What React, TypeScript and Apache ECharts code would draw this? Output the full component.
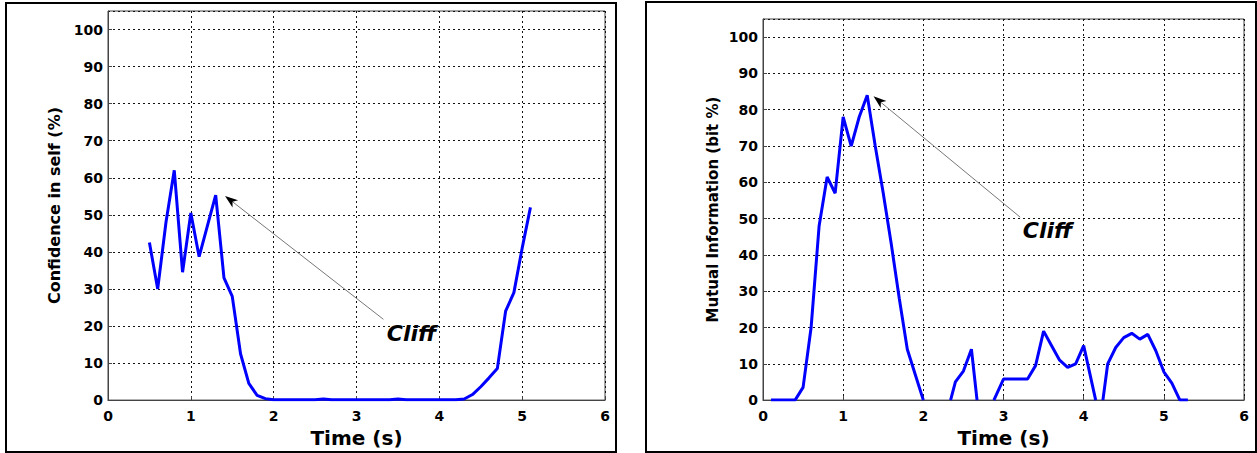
import React, { useEffect, useRef } from "react";
import * as echarts from "echarts";

// ---- data ----
const leftTime = [
  0.5, 0.6, 0.7, 0.8, 0.9, 1.0, 1.1, 1.2, 1.3, 1.4, 1.5, 1.6, 1.7, 1.8, 1.9, 2.0,
  2.1, 2.2, 2.3, 2.4, 2.5, 2.6, 2.7, 2.8, 2.9, 3.0, 3.1, 3.2, 3.3, 3.4, 3.5, 3.6,
  3.7, 3.8, 3.9, 4.0, 4.1, 4.2, 4.3, 4.4, 4.5, 4.6, 4.7, 4.8, 4.9, 5.0, 5.1,
];
const confidence = [
  42.5, 30, 48, 62, 34.5, 50.5, 38.7, 47, 55.3, 33, 28, 12.5, 4.5, 1.3, 0.4, 0.1,
  0.1, 0.1, 0.1, 0.1, 0.1, 0.3, 0.1, 0.1, 0.1, 0.1, 0.1, 0.1, 0.1, 0.1, 0.3, 0.1,
  0.1, 0.1, 0.1, 0.1, 0.1, 0.1, 0.3, 1.5, 3.6, 6, 8.5, 24, 29, 41, 52,
];

const rightTime = [
  0.1, 0.2, 0.3, 0.4, 0.5, 0.6, 0.7, 0.8, 0.9, 1.0, 1.1, 1.2, 1.3, 1.4, 1.5, 1.6,
  1.7, 1.8, 1.9, 2.0, 2.17, 2.34, 2.4, 2.5, 2.6, 2.67, 2.78, 2.88, 3.0, 3.1, 3.2,
  3.3, 3.4, 3.5, 3.6, 3.7, 3.8, 3.9, 4.0, 4.15, 4.2, 4.24, 4.3, 4.4, 4.5, 4.6,
  4.7, 4.8, 4.9, 5.0, 5.1, 5.2, 5.3,
];
const mutualInfo: (number | null)[] = [
  0, 0, 0, 0, 3.5, 20, 48, 61.5, 57, 78, 70, 78, 84, 70, 57, 43,
  28, 14, 7, 0, null, 0, 5, 8, 14, 0, null, 0, 5.8, 5.8, 5.8,
  5.8, 9.5, 19, 15, 11, 9, 10, 15, 0, null, 0, 10, 14.5, 17.2, 18.4,
  16.8, 18.1, 13.6, 7.8, 4.7, 0, 0,
];

const xTicks = { min: 0, max: 6, interval: 1 };
const yTicks = { min: 0, max: 105, interval: 10 };

// annotation anchors (data coordinates)
const leftArrow = { tip: [1.413, 55.1], tail: [3.325, 21.8], text: [3.365, 18] };
const rightArrow = { tip: [1.379, 83.7], tail: [3.208, 50.4], text: [3.24, 46.6] };
const annotationText = "Cliff";

const FONT = "DejaVu Sans";
const GRID_LINE = { color: "#111", width: 1, type: [2, 3] };

function xAxisFor(i: number) {
  return {
    gridIndex: i,
    type: "value",
    ...xTicks,
    name: "Time (s)",
    nameLocation: "middle",
    nameGap: 24,
    nameTextStyle: { fontFamily: FONT, fontWeight: "bold", fontSize: 20, color: "#000" },
    axisLine: { show: true, lineStyle: { color: "#444", width: 1 } },
    axisTick: { show: true, inside: true, length: 4, lineStyle: { color: "#444" } },
    axisLabel: { margin: 9, fontFamily: FONT, fontWeight: "bold", fontSize: 14, color: "#000" },
    splitLine: { show: true, lineStyle: GRID_LINE },
  };
}

function yAxisFor(i: number, name: string, gap: number, size: number) {
  return {
    gridIndex: i,
    type: "value",
    ...yTicks,
    name,
    nameLocation: "middle",
    nameGap: gap,
    nameTextStyle: { fontFamily: FONT, fontWeight: "bold", fontSize: size, color: "#000" },
    axisLine: { show: true, lineStyle: { color: "#444", width: 1 } },
    axisTick: { show: true, inside: true, length: 4, lineStyle: { color: "#444" } },
    axisLabel: {
      margin: 5,
      showMaxLabel: false,
      fontFamily: FONT,
      fontWeight: "bold",
      fontSize: 14,
      color: "#000",
    },
    splitLine: { show: true, lineStyle: GRID_LINE },
  };
}

export default function App() {
  const ref = useRef<HTMLDivElement>(null);
  useEffect(() => {
    if (!ref.current) return;
    const chart = echarts.init(ref.current, null, { renderer: "svg" });
    const leftData = leftTime.map((t, i) => [t, confidence[i]]);
    const rightData = rightTime.map((t, i) => [t, mutualInfo[i] === null ? "-" : mutualInfo[i]]);
    chart.setOption({
      animation: false,
      backgroundColor: "#fff",
      grid: [
        { left: 108, top: 11, width: 497, height: 394, show: true, borderColor: "#444", borderWidth: 1 },
        { left: 763, top: 19, width: 481, height: 390, show: true, borderColor: "#444", borderWidth: 1 },
      ],
      xAxis: [xAxisFor(0), xAxisFor(1)],
      yAxis: [
        yAxisFor(0, "Confidence in self (%)", 46, 16),
        yAxisFor(1, "Mutual Information (bit %)", 43, 15),
      ],
      series: [
        {
          type: "line",
          xAxisIndex: 0,
          yAxisIndex: 0,
          data: leftData,
          showSymbol: false,
          clip: true,
          lineStyle: { color: "#0000ff", width: 3 },
          itemStyle: { color: "#0000ff" },
          z: 5,
        },
        {
          type: "line",
          xAxisIndex: 1,
          yAxisIndex: 1,
          data: rightData,
          showSymbol: false,
          connectNulls: false,
          clip: true,
          lineStyle: { color: "#0000ff", width: 3 },
          itemStyle: { color: "#0000ff" },
          z: 5,
        },
      ],
    });

    const makeAnno = (gridIndex: number, a: { tip: number[]; tail: number[]; text: number[] }) => {
      const tip = chart.convertToPixel({ gridIndex } as any, a.tip) as number[];
      const tail = chart.convertToPixel({ gridIndex } as any, a.tail) as number[];
      const txt = chart.convertToPixel({ gridIndex } as any, a.text) as number[];
      const dx = tail[0] - tip[0];
      const dy = tail[1] - tip[1];
      const len = Math.sqrt(dx * dx + dy * dy);
      const ux = dx / len;
      const uy = dy / len;
      const nx = -uy;
      const ny = ux;
      const L = 13;
      const W = 4.5;
      const N = 3.5;
      const bx = tip[0] + ux * L;
      const by = tip[1] + uy * L;
      const notch = [tip[0] + ux * (L - N), tip[1] + uy * (L - N)];
      return [
        {
          type: "line",
          shape: { x1: notch[0], y1: notch[1], x2: tail[0], y2: tail[1] },
          style: { stroke: "#777", lineWidth: 1 },
          z: 10,
        },
        {
          type: "polygon",
          shape: {
            points: [
              [tip[0], tip[1]],
              [bx + nx * W, by + ny * W],
              notch,
              [bx - nx * W, by - ny * W],
            ],
          },
          style: { fill: "#000" },
          z: 10,
        },
        {
          type: "text",
          x: txt[0],
          y: txt[1],
          style: {
            text: annotationText,
            fontFamily: FONT,
            fontWeight: "bold",
            fontStyle: "italic",
            fontSize: 22,
            fill: "#000",
            textAlign: "left",
            textVerticalAlign: "middle",
          },
          z: 10,
        },
      ];
    };

    chart.setOption({
      graphic: [
        {
          type: "rect",
          shape: { x: 6, y: 3, width: 610, height: 449 },
          style: { fill: "none", stroke: "#000", lineWidth: 2 },
          z: 1,
        },
        {
          type: "rect",
          shape: { x: 646, y: 2, width: 610, height: 450 },
          style: { fill: "none", stroke: "#000", lineWidth: 2 },
          z: 1,
        },
        ...makeAnno(0, leftArrow),
        ...makeAnno(1, rightArrow),
      ],
    });
    return () => chart.dispose();
  }, []);
  return (
    <div
      ref={ref}
      style={{ position: "absolute", left: 0, top: 0, width: 1257, height: 453 }}
    />
  );
}
